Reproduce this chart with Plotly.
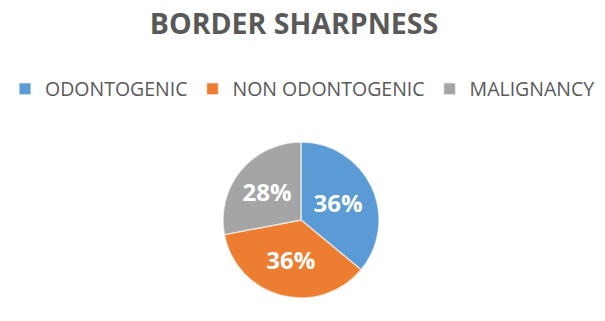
import plotly.graph_objects as go

categories = ["ODONTOGENIC", "NON ODONTOGENIC", "MALIGNANCY"]
values = [36, 36, 28]
colors = ["#5B9BD5", "#ED7D31", "#A5A5A5"]
title_text = "BORDER SHARPNESS"

W, H = 605, 321
cx, cy, r = 301, 220, 78

fig = go.Figure(go.Pie(
    labels=categories,
    values=values,
    sort=False,
    direction="clockwise",
    rotation=0,
    marker=dict(colors=colors, line=dict(color="rgba(255,255,255,0.6)", width=1.5)),
    texttemplate="%{value}%",
    textposition="inside",
    insidetextorientation="horizontal",
    textfont=dict(family="Open Sans", size=24, color="white", weight="bold"),
    hoverinfo="label+percent",
    domain=dict(x=[(cx - 150) / W, (cx + 150) / W],
                y=[(H - cy - r) / H, (H - cy + r) / H]),
))

fig.update_layout(
    width=W, height=H,
    margin=dict(l=0, r=0, t=0, b=0),
    paper_bgcolor="white",
    plot_bgcolor="white",
    title=dict(text=title_text, x=294 / W, xanchor="center", y=(H - 24) / H, yanchor="middle",
               font=dict(family="Open Sans", size=28.5, color="#595959", weight="bold")),
    legend=dict(orientation="h", x=0.5, xanchor="center", y=(H - 89) / H, yanchor="middle",
                font=dict(family="Open Sans", size=19.5, color="#595959"),
                traceorder="normal"),
    showlegend=True,
)

fig.write_html("out.html")
